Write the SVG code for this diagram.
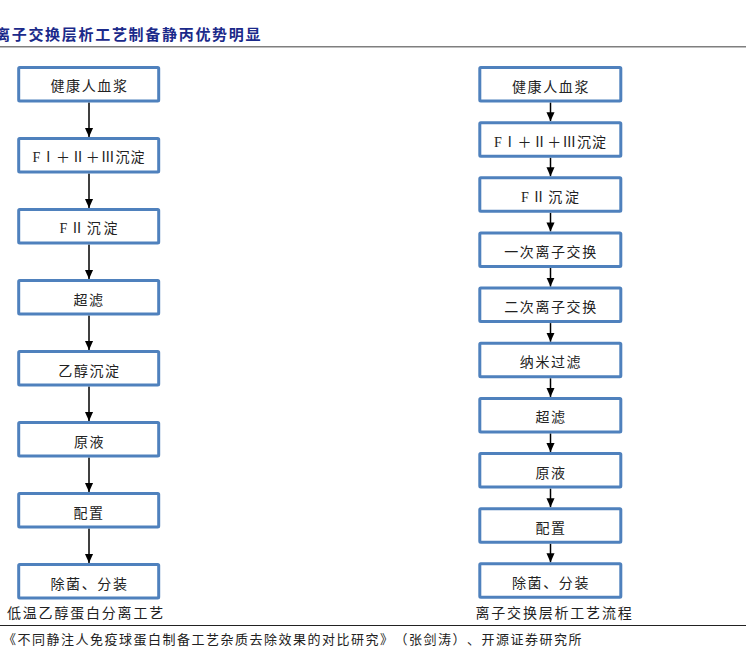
<svg xmlns="http://www.w3.org/2000/svg" width="746" height="657" viewBox="0 0 746 657">
<defs>
<style>
.box{fill:#ffffff;stroke:#4F81BD;stroke-width:3}
.t{font-family:"Liberation Serif","Noto Sans CJK SC",serif;font-size:14px;fill:#222;letter-spacing:1.6px;text-anchor:middle}
.cap{font-family:"Liberation Serif","Noto Sans CJK SC",serif;font-size:14px;fill:#222;letter-spacing:1.8px;text-anchor:middle}
.title{font-family:"Noto Sans CJK SC",sans-serif;font-size:15px;font-weight:bold;fill:#1b2a8a;letter-spacing:1.7px}
.foot{font-family:"Noto Sans CJK SC",sans-serif;font-size:13px;fill:#222;letter-spacing:1.5px;text-spacing-trim:space-all}
.ar{stroke:#000;stroke-width:1.5;fill:none}
</style>
<marker id="arr" viewBox="0 0 10 10" refX="10" refY="5" markerWidth="9" markerHeight="9" markerUnits="userSpaceOnUse" orient="auto">
<path d="M0,0.5 L10,5 L0,9.5 z" fill="#000"/>
</marker>
</defs>
<rect width="746" height="657" fill="#ffffff"/>
<text class="title" x="-5" y="40">离子交换层析工艺制备静丙优势明显</text>
<line x1="0" y1="46.75" x2="746" y2="46.75" stroke="#7f7f7f" stroke-width="1.5"/>

<g id="connectors">
<line class="ar" x1="89" y1="102.5" x2="89" y2="137" marker-end="url(#arr)"/>
<line class="ar" x1="89" y1="173.5" x2="89" y2="208" marker-end="url(#arr)"/>
<line class="ar" x1="89" y1="244.5" x2="89" y2="279" marker-end="url(#arr)"/>
<line class="ar" x1="89" y1="315.5" x2="89" y2="350" marker-end="url(#arr)"/>
<line class="ar" x1="89" y1="386.5" x2="89" y2="421" marker-end="url(#arr)"/>
<line class="ar" x1="89" y1="457.5" x2="89" y2="492" marker-end="url(#arr)"/>
<line class="ar" x1="89" y1="528.5" x2="89" y2="563" marker-end="url(#arr)"/>

<line class="ar" x1="550.5" y1="102.5" x2="550.5" y2="121.15" marker-end="url(#arr)"/>
<line class="ar" x1="550.5" y1="157.65" x2="550.5" y2="176.3" marker-end="url(#arr)"/>
<line class="ar" x1="550.5" y1="212.8" x2="550.5" y2="231.45" marker-end="url(#arr)"/>
<line class="ar" x1="550.5" y1="267.95" x2="550.5" y2="286.6" marker-end="url(#arr)"/>
<line class="ar" x1="550.5" y1="323.1" x2="550.5" y2="341.75" marker-end="url(#arr)"/>
<line class="ar" x1="550.5" y1="378.25" x2="550.5" y2="396.9" marker-end="url(#arr)"/>
<line class="ar" x1="550.5" y1="433.4" x2="550.5" y2="452.05" marker-end="url(#arr)"/>
<line class="ar" x1="550.5" y1="488.55" x2="550.5" y2="507.2" marker-end="url(#arr)"/>
<line class="ar" x1="550.5" y1="543.7" x2="550.5" y2="562.35" marker-end="url(#arr)"/>
</g>

<g id="L1"><rect class="box" x="18.7" y="67.5" width="140" height="33.5" rx="1"/><text class="t" x="89.5" y="91">健康人血浆</text></g>
<g id="L2"><rect class="box" x="18.7" y="138.5" width="140" height="33.5" rx="1"/><text class="t" x="88.5" y="162" textLength="112" lengthAdjust="spacing" style="letter-spacing:0">FⅠ＋Ⅱ＋Ⅲ沉淀</text></g>
<g id="L3"><rect class="box" x="18.7" y="209.5" width="140" height="33.5" rx="1"/><text class="t" x="88.5" y="233" textLength="58" lengthAdjust="spacing" style="letter-spacing:0">FⅡ沉淀</text></g>
<g id="L4"><rect class="box" x="18.7" y="280.5" width="140" height="33.5" rx="1"/><text class="t" x="89" y="304.5">超滤</text></g>
<g id="L5"><rect class="box" x="18.7" y="351.5" width="140" height="33.5" rx="1"/><text class="t" x="89.5" y="375.5">乙醇沉淀</text></g>
<g id="L6"><rect class="box" x="18.7" y="422.5" width="140" height="33.5" rx="1"/><text class="t" x="89.5" y="446.5">原液</text></g>
<g id="L7"><rect class="box" x="18.7" y="493.5" width="140" height="33.5" rx="1"/><text class="t" x="89" y="517.5">配置</text></g>
<g id="L8"><rect class="box" x="18.7" y="564.5" width="140" height="33.5" rx="1"/><text class="t" x="89.5" y="588.5">除菌、分装</text></g>

<g id="R1"><rect class="box" x="479.8" y="67.5" width="141" height="33.5" rx="1"/><text class="t" x="551" y="91.5">健康人血浆</text></g>
<g id="R2"><rect class="box" x="479.8" y="122.65" width="141" height="33.5" rx="1"/><text class="t" x="550" y="146.65" textLength="112" lengthAdjust="spacing" style="letter-spacing:0">FⅠ＋Ⅱ＋Ⅲ沉淀</text></g>
<g id="R3"><rect class="box" x="479.8" y="177.8" width="141" height="33.5" rx="1"/><text class="t" x="550" y="201.8" textLength="58" lengthAdjust="spacing" style="letter-spacing:0">FⅡ沉淀</text></g>
<g id="R4"><rect class="box" x="479.8" y="232.95" width="141" height="33.5" rx="1"/><text class="t" x="551" y="257">一次离子交换</text></g>
<g id="R5"><rect class="box" x="479.8" y="288.1" width="141" height="33.5" rx="1"/><text class="t" x="551" y="312.1">二次离子交换</text></g>
<g id="R6"><rect class="box" x="479.8" y="343.25" width="141" height="33.5" rx="1"/><text class="t" x="551" y="367.3">纳米过滤</text></g>
<g id="R7"><rect class="box" x="479.8" y="398.4" width="141" height="33.5" rx="1"/><text class="t" x="551" y="422.4">超滤</text></g>
<g id="R8"><rect class="box" x="479.8" y="453.55" width="141" height="33.5" rx="1"/><text class="t" x="551" y="477.6">原液</text></g>
<g id="R9"><rect class="box" x="479.8" y="508.7" width="141" height="33.5" rx="1"/><text class="t" x="551" y="532.7">配置</text></g>
<g id="R10"><rect class="box" x="479.8" y="563.85" width="141" height="33.5" rx="1"/><text class="t" x="551" y="587.9">除菌、分装</text></g>

<text class="cap" x="86" y="618">低温乙醇蛋白分离工艺</text>
<text class="cap" x="554.5" y="618">离子交换层析工艺流程</text>
<line x1="0" y1="625.5" x2="746" y2="625.5" stroke="#222" stroke-width="1"/>
<text class="foot" x="3" y="643.5" textLength="580" lengthAdjust="spacing">《不同静注人免疫球蛋白制备工艺杂质去除效果的对比研究》（张剑涛）、开源证券研究所</text>
</svg>
